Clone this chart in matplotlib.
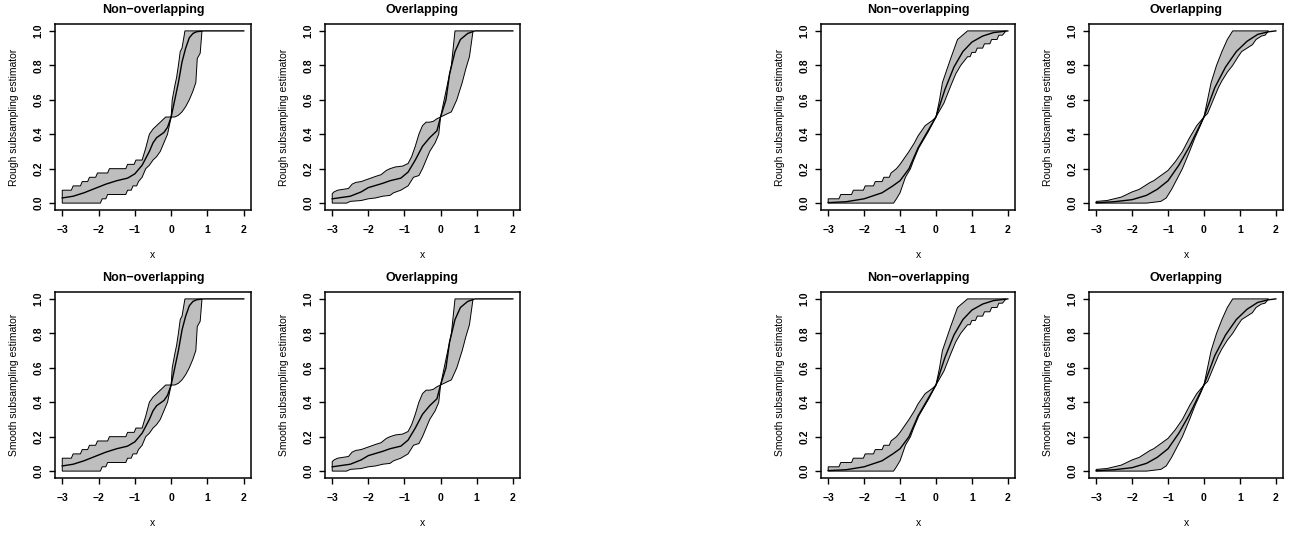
import numpy as np
import matplotlib
matplotlib.use("Agg")
import matplotlib.pyplot as plt

plt.rcParams['font.family'] = ['Liberation Sans', 'DejaVu Sans']

# ---- data (x, value) ----
# left group, non-overlapping
a_up_x = [-3.0, -2.75, -2.7, -2.5, -2.45, -2.3, -2.25, -2.08, -2.03, -1.75, -1.7, -1.25, -1.2, -1.02, -0.97,
          -0.8, -0.7, -0.6, -0.5, -0.4, -0.3, -0.15, 0.0, 0.03, 0.1, 0.15, 0.2, 0.25, 0.3, 0.38, 0.85]
a_up_y = [0.075, 0.075, 0.1, 0.1, 0.125, 0.125, 0.15, 0.15, 0.175, 0.175, 0.2, 0.2, 0.225, 0.225, 0.25,
          0.25, 0.32, 0.4, 0.43, 0.45, 0.47, 0.5, 0.5, 0.6, 0.68, 0.73, 0.8, 0.88, 0.9, 1.0, 1.0]
a_lo_x = [-3.0, -1.95, -1.9, -1.8, -1.75, -1.25, -1.2, -1.1, -1.05, -0.95, -0.9, -0.8, -0.7, -0.6, -0.5,
          -0.4, -0.3, -0.2, -0.1, 0.0, 0.1, 0.2, 0.3, 0.4, 0.5, 0.6, 0.68, 0.72, 0.8, 0.85]
a_lo_y = [0.0, 0.0, 0.025, 0.025, 0.05, 0.05, 0.075, 0.075, 0.1, 0.1, 0.125, 0.15, 0.2, 0.22, 0.25,
          0.27, 0.3, 0.35, 0.4, 0.5, 0.5, 0.51, 0.53, 0.56, 0.6, 0.65, 0.7, 0.84, 0.87, 1.0]
a_mid_x = [-3.0, -2.7, -2.4, -2.1, -1.8, -1.5, -1.2, -1.0, -0.8, -0.6, -0.5, -0.4, -0.3, -0.2, -0.1,
           -0.05, 0.0, 0.1, 0.2, 0.3, 0.4, 0.5, 0.6, 0.7, 0.9, 2.0]
a_mid_y = [0.03, 0.04, 0.06, 0.085, 0.11, 0.13, 0.145, 0.17, 0.22, 0.3, 0.35, 0.38, 0.395, 0.41, 0.44,
           0.47, 0.5, 0.6, 0.7, 0.82, 0.9, 0.96, 0.985, 0.995, 1.0, 1.0]

# left group, overlapping
b_up_x = [-3.0, -2.95, -2.85, -2.7, -2.55, -2.45, -2.35, -2.2, -2.0, -1.8, -1.65, -1.5, -1.4, -1.25, -1.05,
          -0.9, -0.8, -0.7, -0.6, -0.5, -0.4, -0.3, -0.2, -0.1, 0.0, 0.1, 0.2, 0.3, 0.35, 0.4, 0.9]
b_up_y = [0.055, 0.065, 0.075, 0.08, 0.085, 0.11, 0.12, 0.125, 0.14, 0.155, 0.165, 0.19, 0.2, 0.21, 0.215,
          0.23, 0.27, 0.33, 0.4, 0.45, 0.47, 0.47, 0.475, 0.49, 0.5, 0.6, 0.7, 0.8, 0.9, 1.0, 1.0]
b_lo_x = [-3.0, -2.6, -2.5, -2.2, -2.0, -1.8, -1.6, -1.4, -1.3, -1.1, -0.9, -0.75, -0.6, -0.5, -0.4,
          -0.3, -0.15, -0.05, 0.0, 0.1, 0.3, 0.45, 0.6, 0.7, 0.8, 0.9]
b_lo_y = [0.0, 0.0, 0.01, 0.015, 0.025, 0.03, 0.04, 0.045, 0.06, 0.075, 0.1, 0.15, 0.16, 0.2, 0.25,
          0.3, 0.35, 0.4, 0.5, 0.51, 0.53, 0.6, 0.7, 0.78, 0.85, 1.0]
b_mid_x = [-3.0, -2.5, -2.2, -2.0, -1.6, -1.4, -1.1, -0.9, -0.7, -0.5, -0.3, -0.1, 0.0, 0.15, 0.25,
           0.4, 0.55, 0.75, 0.95, 2.0]
b_mid_y = [0.025, 0.04, 0.065, 0.09, 0.115, 0.13, 0.145, 0.18, 0.25, 0.33, 0.38, 0.42, 0.5, 0.6, 0.75,
           0.88, 0.95, 0.985, 1.0, 1.0]

# right group, non-overlapping
c_up_x = [-3.0, -2.7, -2.65, -2.35, -2.3, -2.02, -1.97, -1.74, -1.69, -1.5, -1.45, -1.3, -1.25, -1.1, -1.0,
          -0.75, -0.6, -0.5, -0.3, -0.1, 0.0, 0.1, 0.18, 0.41, 0.6, 0.88, 1.95]
c_up_y = [0.025, 0.025, 0.05, 0.05, 0.075, 0.075, 0.1, 0.1, 0.125, 0.125, 0.15, 0.15, 0.175, 0.2, 0.225,
          0.3, 0.35, 0.39, 0.45, 0.48, 0.5, 0.6, 0.7, 0.84, 0.95, 1.0, 1.0]
c_lo_x = [-3.0, -1.18, -1.1, -1.0, -0.85, -0.71, -0.62, -0.48, -0.34, -0.2, 0.0, 0.22, 0.41, 0.55, 0.69,
          0.88, 0.95, 1.0, 1.1, 1.15, 1.3, 1.35, 1.5, 1.55, 1.7, 1.75, 1.85, 1.95]
c_lo_y = [0.0, 0.0, 0.025, 0.06, 0.15, 0.2, 0.25, 0.32, 0.37, 0.42, 0.5, 0.58, 0.68, 0.75, 0.8,
          0.85, 0.85, 0.875, 0.875, 0.9, 0.9, 0.925, 0.925, 0.95, 0.95, 0.975, 0.975, 1.0]
c_mid_x = [-3.0, -2.5, -2.0, -1.5, -1.2, -1.0, -0.75, -0.5, -0.25, 0.0, 0.25, 0.5, 0.75, 1.0, 1.3, 1.6, 2.0]
c_mid_y = [0.003, 0.008, 0.025, 0.06, 0.1, 0.13, 0.2, 0.32, 0.41, 0.5, 0.66, 0.79, 0.88, 0.935, 0.97, 0.99, 1.0]

# right group, overlapping
d_up_x = [-3.0, -2.7, -2.5, -2.3, -2.0, -1.8, -1.5, -1.4, -1.2, -1.0, -0.8, -0.6, -0.4, -0.2, 0.0,
          0.1, 0.2, 0.35, 0.5, 0.65, 0.8, 1.8]
d_up_y = [0.01, 0.015, 0.025, 0.035, 0.065, 0.08, 0.12, 0.13, 0.16, 0.19, 0.24, 0.3, 0.38, 0.45, 0.5,
          0.6, 0.7, 0.8, 0.88, 0.95, 1.0, 1.0]
d_lo_x = [-3.0, -1.6, -1.4, -1.2, -1.05, -0.9, -0.75, -0.6, -0.5, -0.4, -0.25, -0.1, 0.0, 0.1, 0.2,
          0.3, 0.4, 0.5, 0.65, 0.8, 0.95, 1.05, 1.2, 1.35, 1.45, 1.6, 1.7, 1.8]
d_lo_y = [0.0, 0.0, 0.005, 0.01, 0.03, 0.08, 0.14, 0.2, 0.25, 0.3, 0.38, 0.45, 0.5, 0.52, 0.57,
          0.62, 0.67, 0.71, 0.76, 0.8, 0.85, 0.88, 0.9, 0.92, 0.95, 0.97, 0.975, 1.0]
d_mid_x = [-3.0, -2.5, -2.0, -1.6, -1.3, -1.0, -0.7, -0.4, 0.0, 0.3, 0.6, 0.9, 1.2, 1.5, 1.8, 2.0]
d_mid_y = [0.002, 0.008, 0.02, 0.045, 0.08, 0.13, 0.22, 0.33, 0.5, 0.67, 0.79, 0.88, 0.94, 0.98, 0.995, 1.0]

titles = ['Non\u2212overlapping', 'Overlapping']
ylabels = ['Rough subsampling estimator', 'Smooth subsampling estimator']
xticks = [-3, -2, -1, 0, 1, 2]
yticks = [0.0, 0.2, 0.4, 0.6, 0.8, 1.0]

W, H = 1291, 533
fig = plt.figure(figsize=(W / 100, H / 100), dpi=100)

col_px = [(55, 251), (325, 520), (821, 1015), (1089, 1283)]
row_px = [(24, 210), (292, 478)]

panel_data = [
    (a_up_x, a_up_y, a_lo_x, a_lo_y, a_mid_x, a_mid_y),
    (b_up_x, b_up_y, b_lo_x, b_lo_y, b_mid_x, b_mid_y),
    (c_up_x, c_up_y, c_lo_x, c_lo_y, c_mid_x, c_mid_y),
    (d_up_x, d_up_y, d_lo_x, d_lo_y, d_mid_x, d_mid_y),
]


def draw_panel(ax, data, title, ylabel):
    ux, uy, lx, ly, mx, my = data
    px = np.concatenate([ux, lx[::-1]])
    py = np.concatenate([uy, ly[::-1]])
    ax.fill(px, py, facecolor='#BEBEBE', edgecolor='black', linewidth=0.7)
    ax.plot(mx, my, color='black', linewidth=1.0)
    ax.set_xlim(-3.2, 2.2)
    ax.set_ylim(-0.04, 1.04)
    ax.set_xticks(xticks)
    ax.set_xticklabels(['\u2212' + str(-t) if t < 0 else str(t) for t in xticks], fontweight='bold')
    ax.set_yticks(yticks)
    ax.set_yticklabels(['%.1f' % t for t in yticks], rotation=90, va='center', fontweight='bold')
    ax.tick_params(direction='out', length=4.5, width=1.0, labelsize=7.5)
    ax.tick_params(axis='x', pad=6)
    ax.tick_params(axis='y', pad=4)
    for s in ax.spines.values():
        s.set_linewidth(1.1)
    ax.set_title(title, fontsize=9, fontweight='bold', pad=8)
    ax.set_xlabel('x', fontsize=7.5, labelpad=11)
    ax.set_ylabel(ylabel, fontsize=7.5, labelpad=10)


for r, (top, bot) in enumerate(row_px):
    for c, (left, right) in enumerate(col_px):
        ax = fig.add_axes([left / W, 1 - bot / H, (right - left) / W, (bot - top) / H])
        draw_panel(ax, panel_data[c], titles[c % 2], ylabels[r])

fig.savefig('out.png', dpi=100)
